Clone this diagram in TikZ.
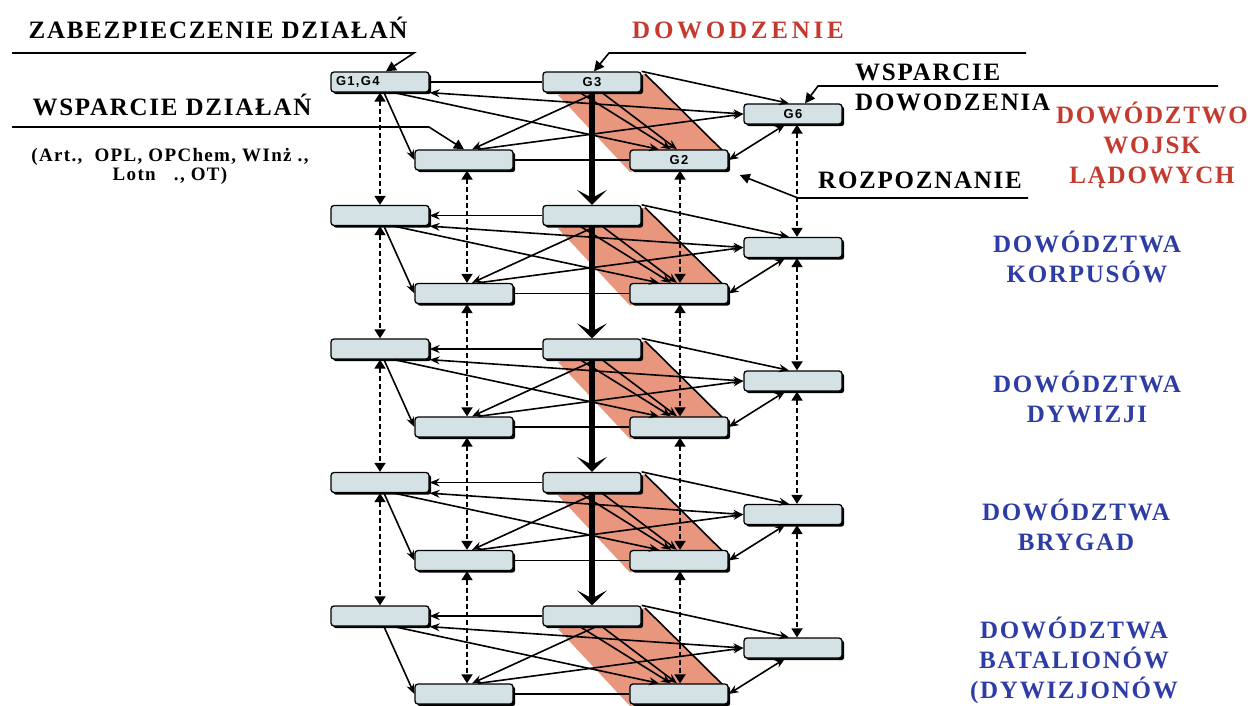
\documentclass[tikz,border=0pt]{standalone}
\usepackage{fontspec}
\setmainfont{Liberation Serif}
\newfontfamily\lblfont[LetterSpace=7]{Liberation Serif}
\newfontfamily\widefont[LetterSpace=15]{Liberation Serif}
\newfontfamily\cellfont[LetterSpace=10]{Liberation Sans}
\usepackage{xcolor}
\usepackage{tikz}
\usetikzlibrary{arrows.meta,positioning,calc,shadows,backgrounds}

\definecolor{cellfill}{RGB}{212,226,230}
\definecolor{bandfill}{RGB}{232,150,126}
\definecolor{cmdred}{RGB}{196,58,46}
\definecolor{unitblue}{RGB}{46,60,166}

\begin{document}
\begin{tikzpicture}[
    x=1pt, y=-1pt,
    cell/.style={draw, line width=1.3pt, rounded corners=3pt, fill=cellfill,
        minimum width=98pt, minimum height=20pt, inner sep=0pt,
        font=\cellfont\bfseries\fontsize{13}{13}\selectfont,
        drop shadow={shadow xshift=2.2pt, shadow yshift=-2.2pt, fill=black, opacity=1}},
    lbl/.style={font=\lblfont\bfseries\fontsize{25}{30}\selectfont, align=center, inner sep=0pt},
    link/.style={line width=1.6pt, -{Stealth[length=10pt,width=8pt]}},
    twoway/.style={line width=1.6pt, {Stealth[length=10pt,width=8pt]}-{Stealth[length=10pt,width=8pt]}},
    plain/.style={line width=1.6pt},
    vert/.style={line width=1.8pt, dash pattern=on 5pt off 3pt,
        {Triangle[length=9pt,width=11pt]}-{Triangle[length=9pt,width=11pt]}},
    chain/.style={line width=5.5pt, -{Stealth[length=15pt,width=30pt,inset=8pt,line width=1pt]}},
    pointer/.style={line width=1.6pt, -{Triangle[length=10pt,width=10pt]}}
]
    \useasboundingbox (0,0) rectangle (1252,705);
    \clip (0,0) rectangle (1252,705);

    \foreach \i [evaluate=\i as \yy using (\i-1)*133.5] in {1,...,5} {
        \begin{scope}[on background layer]
            \fill[bandfill] (558,95+\yy) -- (645,74+\yy) -- (724,152+\yy) -- (630,172+\yy) -- cycle;
            \draw[line width=1.6pt] (645,74+\yy) -- (724,152+\yy);
        \end{scope}
        \node[cell, text width=88pt, align=left] (zab\i) at (380,82+\yy) {\ifnum\i=1 G1,G4\fi};
        \node[cell] (dow\i) at (592,82+\yy) {\ifnum\i=1 G3\fi};
        \node[cell] (wdo\i) at (793,114+\yy) {\ifnum\i=1 G6\fi};
        \node[cell] (wsp\i) at (464,160+\yy) {};
        \node[cell] (roz\i) at (679,160+\yy) {\ifnum\i=1 G2\fi};

        \ifnum\i=1
            \draw[plain] (dow\i.west) -- (zab\i.east);
        \else
            \draw[link] (dow\i.west) -- (zab\i.east);
        \fi
        \draw[twoway] (zab\i.south east) -- (wdo\i.west);
        \draw[link] ($(zab\i.south)+(14,0)$) -- ($(roz\i.north)+(-20,0)$);
        \draw[link] ($(zab\i.south)+(4,0)$) -- (wsp\i.west);
        \draw[link] ($(dow\i.south)+(4,0)$) -- ($(wsp\i.north)+(8,0)$);
        \draw[link] ($(wsp\i.north)+(14,0)$) -- (wdo\i.west);
        \draw[link] ($(dow\i.south)+(-12,0)$) -- ($(roz\i.north)+(-8,0)$);
        \draw[link] ($(dow\i.south)+(10,0)$) -- ($(roz\i.north)+(-2,0)$);
        \draw[link] (dow\i.north east) -- ($(wdo\i.north)+(-4,0)$);
        \draw[twoway] ($(wdo\i.south)+(-8,0)$) -- (roz\i.east);
        \draw[plain] (wsp\i.east) -- (roz\i.west);
    }

    \foreach \i [evaluate=\i as \j using int(\i+1)] in {1,...,4} {
        \draw[chain] (dow\i.south) -- (dow\j.north);
        \draw[vert] (zab\i.south) -- (zab\j.north);
        \draw[vert] ($(wsp\i.south)+(3,0)$) -- ($(wsp\j.north)+(3,0)$);
        \draw[vert] ($(roz\i.south)+(1,0)$) -- ($(roz\j.north)+(1,0)$);
        \draw[vert] ($(wdo\i.south)+(4,0)$) -- ($(wdo\j.north)+(4,0)$);
    }

    \node[lbl, anchor=base] (zabtxt) at (218,38) {ZABEZPIECZENIE DZIAŁAŃ};
    \node[lbl, anchor=base, text=cmdred, font=\widefont\bfseries\fontsize{25}{30}\selectfont] (dowtxt) at (738,38) {DOWODZENIE};
    \node[lbl, anchor=base] (wsptxt) at (172,115) {WSPARCIE DZIAŁAŃ};
    \node[lbl, anchor=base, font=\lblfont\bfseries\fontsize{19}{15}\selectfont] (rodzaje) at (170,180)
        {(Art.,\ \ OPL, OPChem, WInż\ .,\\Lotn\ \ \ ., OT)};
    \node[lbl, anchor=base west] (wdotxt) at (855,80) {WSPARCIE};
    \node[lbl, anchor=base west] (wdotxt2) at (855,110) {DOWODZENIA};
    \node[lbl, anchor=base west] (roztxt) at (818,188) {ROZPOZNANIE};

    \node[lbl, anchor=base, text=cmdred] (wljtxt) at (1152,183) {DOWÓDZTWO\\WOJSK\\LĄDOWYCH};
    \node[lbl, anchor=base, text=unitblue] (korp) at (1087,282) {DOWÓDZTWA\\KORPUSÓW};
    \node[lbl, anchor=base, text=unitblue] (dyw) at (1087,422) {DOWÓDZTWA\\DYWIZJI};
    \node[lbl, anchor=base, text=unitblue] (bryg) at (1076,550) {DOWÓDZTWA\\BRYGAD};
    \node[lbl, anchor=base, text=unitblue] (bat) at (1074,698) {DOWÓDZTWA\\BATALIONÓW\\(DYWIZJONÓW};

    \coordinate (zabend) at (12,53);
    \coordinate (zabknee) at (414,53);
    \coordinate (dowend) at (1026,53);
    \coordinate (dowknee) at (609,53);
    \coordinate (wspend) at (12,127);
    \coordinate (wspknee) at (429,127);
    \coordinate (wdoend) at (1218,86);
    \coordinate (wdoknee) at (818,86);
    \coordinate (rozend) at (1028,198);
    \coordinate (rozknee) at (798,198);

    \draw[pointer] (zabend) -- (zabknee) -- ($(zab1.north)+(6,0)$);
    \draw[pointer] (dowend) -- (dowknee) -- ($(dow1.north)+(2,0)$);
    \draw[pointer] (wspend) -- (wspknee) -- (wsp1.north);
    \draw[pointer] (wdoend) -- (wdoknee) -- ($(wdo1.north)+(12,0)$);
    \draw[pointer, shorten >=12pt] (rozend) -- (rozknee) -- (roz1.south east);
\end{tikzpicture}
\end{document}
